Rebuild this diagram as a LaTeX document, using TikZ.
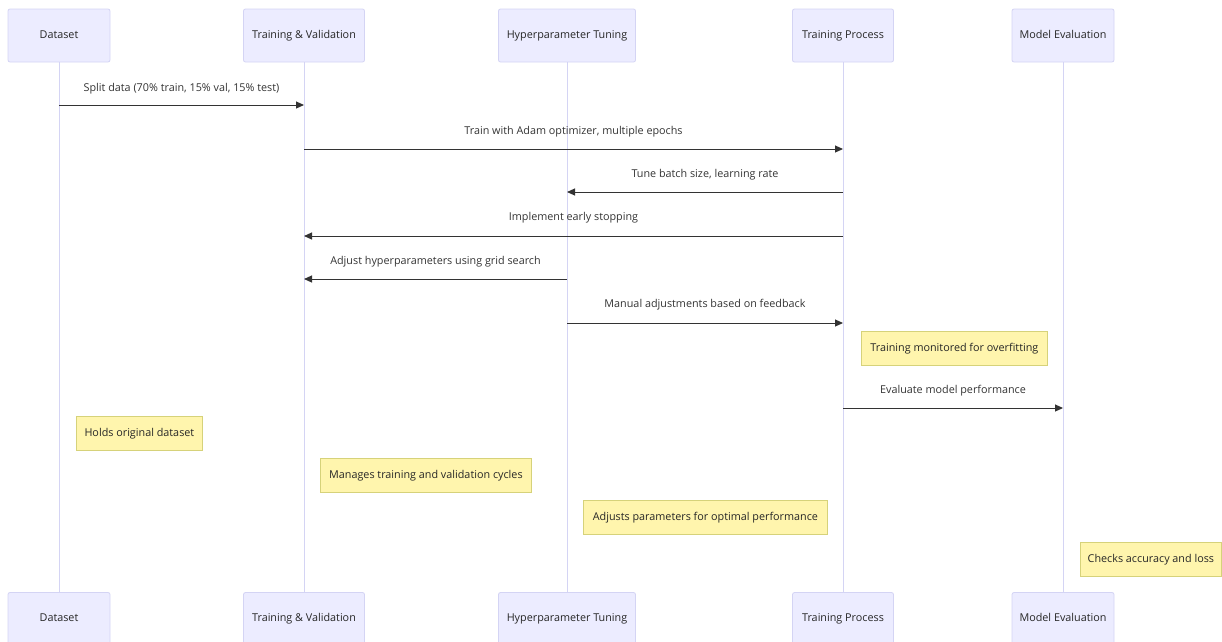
\documentclass[tikz,border=0pt]{standalone}
\usepackage{fontspec}
\setmainfont{Open Sans}
\usetikzlibrary{arrows.meta}
\definecolor{actfill}{HTML}{ECECFF}
\definecolor{actdraw}{HTML}{D4D4F4}
\definecolor{lifecol}{HTML}{D4D4F4}
\definecolor{notefill}{HTML}{FFF5AD}
\definecolor{notedraw}{HTML}{D6D27A}
\definecolor{msgcol}{HTML}{333333}
\newcommand{\dfont}{\fontsize{10.8}{13}\selectfont}
\tikzset{
  actor/.style={draw=actdraw, fill=actfill, rounded corners=2pt, line width=0.8pt, minimum height=53pt, inner sep=0pt, font=\dfont, text=black!85, text height=8pt, text depth=2.5pt},
  lifeline/.style={draw=lifecol, line width=1pt},
  msg/.style={draw=msgcol, line width=1pt, -{Triangle[length=8pt,width=7pt]}},
  msglabel/.style={font=\dfont, text=black!80, inner sep=0pt, text height=8pt, text depth=2.5pt},
  note/.style={draw=notedraw, fill=notefill, line width=0.8pt, minimum height=34pt, inner sep=0pt, font=\dfont, text=black!85, anchor=north west, text height=8pt, text depth=2.5pt}
}
\begin{document}
\begin{tikzpicture}[x=1pt,y=-1pt]
\useasboundingbox (0,0) rectangle (1222,641);
% top actors
\node[actor, minimum width=102pt] (dsT) at (59,35.5) {Dataset};
\node[actor, minimum width=121pt] (tvT) at (304,35.5) {Training \& Validation};
\node[actor, minimum width=137pt] (hpT) at (567,35.5) {Hyperparameter Tuning};
\node[actor, minimum width=101pt] (tpT) at (843,35.5) {Training Process};
\node[actor, minimum width=102pt] (meT) at (1063,35.5) {Model Evaluation};
% bottom actors
\node[actor, minimum width=102pt] (dsB) at (59,619) {Dataset};
\node[actor, minimum width=121pt] (tvB) at (304,619) {Training \& Validation};
\node[actor, minimum width=137pt] (hpB) at (567,619) {Hyperparameter Tuning};
\node[actor, minimum width=101pt] (tpB) at (843,619) {Training Process};
\node[actor, minimum width=102pt] (meB) at (1063,619) {Model Evaluation};
% lifelines
\draw[lifeline] (dsT.south) -- (dsB.north);
\draw[lifeline] (tvT.south) -- (tvB.north);
\draw[lifeline] (hpT.south) -- (hpB.north);
\draw[lifeline] (tpT.south) -- (tpB.north);
\draw[lifeline] (meT.south) -- (meB.north);
% message anchors
\coordinate (m1a) at (59,105);  \coordinate (m1b) at (304,105);
\coordinate (m2a) at (304,149); \coordinate (m2b) at (843,149);
\coordinate (m3a) at (843,192); \coordinate (m3b) at (567,192);
\coordinate (m4a) at (843,236); \coordinate (m4b) at (304,236);
\coordinate (m5a) at (567,279); \coordinate (m5b) at (304,279);
\coordinate (m6a) at (567,323); \coordinate (m6b) at (843,323);
\coordinate (m7a) at (843,408); \coordinate (m7b) at (1063,408);
\draw[msg] (m1a) -- (m1b);
\draw[msg] (m2a) -- (m2b);
\draw[msg] (m3a) -- (m3b);
\draw[msg] (m4a) -- (m4b);
\draw[msg] (m5a) -- (m5b);
\draw[msg] (m6a) -- (m6b);
\draw[msg] (m7a) -- (m7b);
\node[msglabel] (l1) at (181.5,88.5) {Split data (70\% train, 15\% val, 15\% test)};
\node[msglabel] (l2) at (573.5,131.5) {Train with Adam optimizer, multiple epochs};
\node[msglabel] (l3) at (705,174.5) {Tune batch size, learning rate};
\node[msglabel] (l4) at (573.5,217.5) {Implement early stopping};
\node[msglabel] (l5) at (435.5,261.5) {Adjust hyperparameters using grid search};
\node[msglabel] (l6) at (705,304.5) {Manual adjustments based on feedback};
\node[msglabel] (l7) at (953,390.5) {Evaluate model performance};
% notes
\node[note, minimum width=186pt] (n1) at (861,331) {Training monitored for overfitting};
\node[note, minimum width=126pt] (n2) at (76,416) {Holds original dataset};
\node[note, minimum width=211pt] (n3) at (320,458) {Manages training and validation cycles};
\node[note, minimum width=244pt] (n4) at (583,500) {Adjusts parameters for optimal performance};
\node[note, minimum width=141pt] (n5) at (1080,542) {Checks accuracy and loss};
\end{tikzpicture}
\end{document}
